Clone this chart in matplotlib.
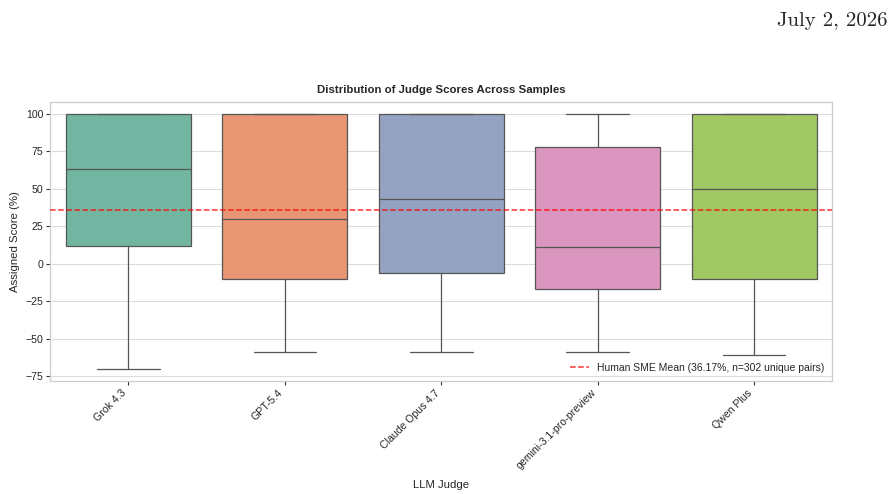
import matplotlib
matplotlib.use("Agg")
import matplotlib.pyplot as plt
import seaborn as sns

judges = ["Grok 4.3", "GPT-5.4", "Claude Opus 4.7", "gemini-3.1-pro-preview", "Qwen Plus"]
whisker_low = [-70, -59, -59, -59, -60.5]
q1 = [12, -10, -6, -17, -10]
median = [63, 30, 43, 11.5, 50]
q3 = [100, 100, 100, 78, 100]
whisker_high = [100, 100, 100, 100, 100]
human_mean = 36.17
n_pairs = 302

sns.set_theme(style="whitegrid")
plt.rcParams['font.family'] = ['Liberation Sans', 'DejaVu Sans']

# seaborn boxplot desaturates its palette to 0.75
colors = [sns.desaturate(c, 0.75) for c in sns.color_palette("Set2", len(judges))]

fig = plt.figure(figsize=(8.96, 4.94), dpi=100)
ax = fig.add_axes([0.056, 0.229, 0.873, 0.565])

stats = []
for i, name in enumerate(judges):
    stats.append({"label": name, "whislo": whisker_low[i], "q1": q1[i], "med": median[i],
                  "q3": q3[i], "whishi": whisker_high[i], "fliers": []})

line_col = "#555555"
bp = ax.bxp(stats, positions=range(len(judges)), widths=0.8, patch_artist=True,
            showfliers=False,
            boxprops=dict(edgecolor=line_col, linewidth=0.9),
            medianprops=dict(color=line_col, linewidth=0.9),
            whiskerprops=dict(color=line_col, linewidth=0.9),
            capprops=dict(color=line_col, linewidth=0.9))
for patch, c in zip(bp["boxes"], colors):
    patch.set_facecolor(c)

ax.axhline(human_mean, color="red", linestyle="--", linewidth=1.1, alpha=0.8,
           label=f"Human SME Mean ({human_mean:.2f}%, n={n_pairs} unique pairs)", zorder=5)

ax.set_xlim(-0.5, len(judges) - 0.5)
ax.set_ylim(-78, 108)
ax.set_yticks([-75, -50, -25, 0, 25, 50, 75, 100])
ax.set_xticks(range(len(judges)))
ax.set_xticklabels(judges, rotation=45, ha="right", fontsize=7.6)
ax.tick_params(axis="y", labelsize=7.6)
ax.tick_params(axis="both", which="major", length=3, width=0.8, color="#333333",
               bottom=True, left=True, pad=2)
ax.grid(axis="x", visible=False)
ax.grid(axis="y", color="#dddddd", linewidth=0.8)
ax.set_axisbelow(True)
for s in ax.spines.values():
    s.set_color("#cccccc")
    s.set_linewidth(0.9)

ax.set_title("Distribution of Judge Scores Across Samples", fontsize=8.2, fontweight="bold", pad=6)
ax.set_xlabel("LLM Judge", fontsize=8.2, labelpad=6)
ax.set_ylabel("Assigned Score (%)", fontsize=8.2)

leg = ax.legend(loc="lower right", fontsize=7.5, frameon=False, borderaxespad=0.35,
                handlelength=1.8)

fig.text(0.99, 0.975, "July 2, 2026", family="cmr10", fontsize=15, ha="right", va="top")

fig.savefig("out.png", dpi=100)
